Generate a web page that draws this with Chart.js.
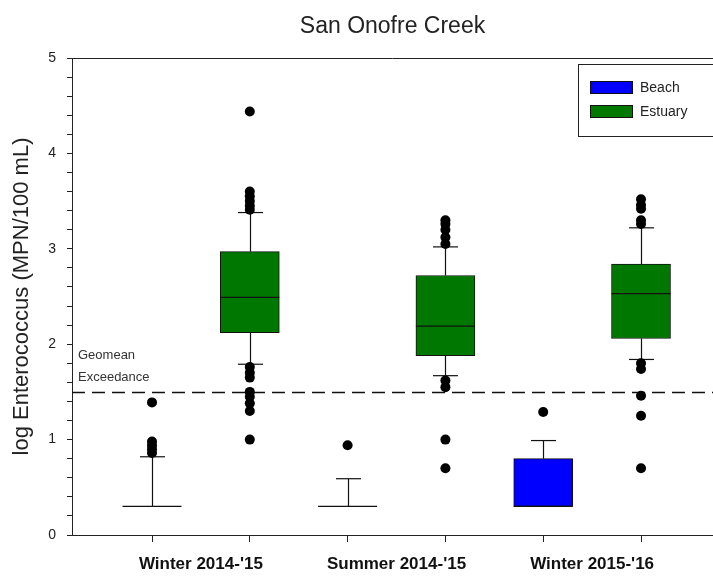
<!DOCTYPE html>
<html>
<head>
<meta charset="utf-8">
<script src="https://cdn.jsdelivr.net/npm/chart.js@4.4.0/dist/chart.umd.min.js"></script>
<style>
  body { margin: 0; background: #fff; }
  #wrap { width: 713px; height: 583px; }
</style>
</head>
<body>
<div id="wrap"><canvas id="chart" width="713" height="583"></canvas></div>
<script>
// categories and series
var categories = ["Winter 2014-'15", "Summer 2014-'15", "Winter 2015-'16"];
var seriesNames = ["Beach", "Estuary"];
var seriesColors = ["#0000ff", "#007800"];
var chartTitle = 'San Onofre Creek';

// box statistics, log Enterococcus
var beachQ1 = [0.3, 0.3, 0.3];
var beachMedian = [0.3, 0.3, 0.3];
var beachQ3 = [0.3, 0.3, 0.8];
var beachLow = [0.3, 0.3, 0.3];
var beachHigh = [0.82, 0.59, 0.99];
var beachOutliers = [[1.39, 0.98, 0.94, 0.9, 0.86], [0.94], [1.29]];

var estuaryQ1 = [2.12, 1.88, 2.06];
var estuaryMedian = [2.49, 2.19, 2.53];
var estuaryQ3 = [2.97, 2.72, 2.84];
var estuaryLow = [1.79, 1.67, 1.84];
var estuaryHigh = [3.38, 3.02, 3.22];
var estuaryOutliers = [
  [4.44, 3.6, 3.55, 3.5, 3.45, 3.41, 1.76, 1.7, 1.65, 1.5, 1.45, 1.38, 1.3, 1.0],
  [3.3, 3.26, 3.2, 3.12, 3.05, 1.62, 1.55, 1.0, 0.7],
  [3.52, 3.46, 3.42, 3.3, 3.26, 1.8, 1.74, 1.46, 1.25, 0.7]
];

var geomeanLimit = 1.5;
var yTicks = [0, 1, 2, 3, 4, 5];

var stats = [
  { q1: beachQ1, med: beachMedian, q3: beachQ3, lo: beachLow, hi: beachHigh, out: beachOutliers },
  { q1: estuaryQ1, med: estuaryMedian, q3: estuaryQ3, lo: estuaryLow, hi: estuaryHigh, out: estuaryOutliers }
];

// slot on the x axis: two boxes per category
function slot(i, s) { return i * 2 + s + 1; }

var BOX_W = 59;
var CAP_W = 25;

var datasets = [];
stats.forEach(function(st, s) {
  datasets.push({
    type: 'bar',
    label: seriesNames[s],
    data: categories.map(function(c, i) { return { x: slot(i, s), y: [st.q1[i], st.q3[i]] }; }),
    backgroundColor: seriesColors[s],
    borderColor: '#111',
    borderWidth: 1,
    borderSkipped: false,
    barThickness: BOX_W,
    grouped: false,
    order: 2
  });
});

var outlierPts = [];
stats.forEach(function(st, s) {
  st.out.forEach(function(list, i) {
    list.forEach(function(v) { outlierPts.push({ x: slot(i, s), y: v }); });
  });
});
datasets.push({
  type: 'scatter',
  label: 'outliers',
  data: outlierPts,
  pointRadius: 5,
  pointBackgroundColor: '#000',
  pointBorderWidth: 0,
  order: 0
});

function line(ctx, x1, y1, x2, y2) {
  ctx.beginPath();
  ctx.moveTo(x1, y1);
  ctx.lineTo(x2, y2);
  ctx.stroke();
}

var boxExtras = {
  id: 'boxExtras',
  beforeDatasetsDraw: function(chart) {
    var ctx = chart.ctx, xs = chart.scales.x, ys = chart.scales.y, area = chart.chartArea;
    ctx.save();
    // geomean exceedance line
    ctx.strokeStyle = '#111';
    ctx.lineWidth = 1.3;
    ctx.setLineDash([13, 7]);
    var gy = Math.round(ys.getPixelForValue(geomeanLimit)) + 0.5;
    line(ctx, area.left, gy, area.right, gy);
    ctx.setLineDash([]);
    // whiskers
    ctx.lineWidth = 1.2;
    stats.forEach(function(st, s) {
      categories.forEach(function(c, i) {
        var px = Math.round(xs.getPixelForValue(slot(i, s))) + 0.5;
        var yq3 = ys.getPixelForValue(st.q3[i]), yhi = ys.getPixelForValue(st.hi[i]);
        var yq1 = ys.getPixelForValue(st.q1[i]), ylo = ys.getPixelForValue(st.lo[i]);
        if (st.hi[i] > st.q3[i]) {
          line(ctx, px, yq3, px, yhi);
          line(ctx, px - CAP_W / 2, yhi, px + CAP_W / 2, yhi);
        }
        if (st.lo[i] < st.q1[i]) {
          line(ctx, px, yq1, px, ylo);
          line(ctx, px - CAP_W / 2, ylo, px + CAP_W / 2, ylo);
        }
      });
    });
    ctx.restore();
  },
  afterDatasetsDraw: function(chart) {
    var ctx = chart.ctx, xs = chart.scales.x, ys = chart.scales.y;
    ctx.save();
    ctx.strokeStyle = '#111';
    ctx.lineWidth = 1.3;
    stats.forEach(function(st, s) {
      categories.forEach(function(c, i) {
        var px = xs.getPixelForValue(slot(i, s));
        var my = ys.getPixelForValue(st.med[i]);
        line(ctx, px - BOX_W / 2, my, px + BOX_W / 2, my);
      });
    });
    ctx.restore();
  },
  afterDraw: function(chart) {
    var ctx = chart.ctx, ys = chart.scales.y, area = chart.chartArea;
    ctx.save();
    // title, centred over the plot area
    ctx.fillStyle = '#222';
    ctx.font = '23px "Liberation Sans", Arial, sans-serif';
    ctx.textAlign = 'center';
    ctx.textBaseline = 'middle';
    ctx.fillText(chartTitle, (area.left + area.right) / 2, area.top - 31);

    // top frame line
    ctx.strokeStyle = '#222';
    ctx.lineWidth = 1;
    line(ctx, area.left, area.top + 0.5, area.right, area.top + 0.5);

    // geomean label
    var gy = ys.getPixelForValue(geomeanLimit);
    ctx.fillStyle = '#333';
    ctx.font = '13px "Liberation Sans", Arial, sans-serif';
    ctx.textAlign = 'left';
    ctx.fillText('Geomean', area.left + 6, gy - 36);
    ctx.fillText('Exceedance', area.left + 6, gy - 14);

    // legend
    var lx = area.right - 135, ly = area.top + 6;
    ctx.strokeStyle = '#222';
    ctx.strokeRect(lx + 0.5, ly + 0.5, 160, 72);
    ctx.font = '14px "Liberation Sans", Arial, sans-serif';
    seriesNames.forEach(function(name, s) {
      var sy = ly + 17 + s * 24;
      ctx.fillStyle = seriesColors[s];
      ctx.fillRect(lx + 12, sy, 43, 13);
      ctx.strokeStyle = '#111';
      ctx.strokeRect(lx + 12.5, sy + 0.5, 42, 12);
      ctx.fillStyle = '#222';
      ctx.fillText(name, lx + 62, sy + 7);
    });
    ctx.restore();
  }
};

var ctx = document.getElementById('chart');
var chart = new Chart(ctx, {
  data: { datasets: datasets },
  plugins: [boxExtras],
  options: {
    responsive: false,
    animation: false,
    events: [],
    layout: { autoPadding: false, padding: { top: 58, left: 0, right: 0, bottom: 0 } },
    plugins: {
      legend: { display: false },
      tooltip: { enabled: false },
      title: { display: false }
    },
    scales: {
      x: {
        type: 'linear',
        offset: false,
        min: 0.182,
        max: 6.736,
        afterFit: function(scale) {
          scale.height = 48;
          scale.paddingLeft = 0;
          scale.paddingRight = 0;
        },
        afterBuildTicks: function(scale) {
          var t = [];
          categories.forEach(function(c, i) {
            t.push({ value: slot(i, 0) }, { value: slot(i, 0) + 0.5 }, { value: slot(i, 1) });
          });
          scale.ticks = t;
        },
        grid: {
          offset: false,
          drawOnChartArea: false,
          tickLength: 7,
          tickColor: function(c) { return c.tick && c.tick.value % 1 !== 0 ? 'rgba(0,0,0,0)' : '#222'; }
        },
        border: { color: '#222', width: 1 },
        ticks: {
          autoSkip: false,
          maxRotation: 0,
          padding: 12,
          color: '#111',
          font: { family: '"Liberation Sans", Arial, sans-serif', size: 17, weight: 'bold' },
          callback: function(v) {
            if (v % 1 === 0) return '';
            return categories[Math.round((v - 1.5) / 2)];
          }
        }
      },
      y: {
        type: 'linear',
        min: 0,
        max: 5,
        afterFit: function(scale) { scale.width = 72; },
        afterBuildTicks: function(scale) {
          var t = [];
          for (var k = 0; k <= 25; k++) t.push({ value: k / 5 });
          scale.ticks = t;
        },
        grid: { drawOnChartArea: false, tickLength: 5, tickColor: '#222' },
        border: { color: '#222', width: 1 },
        ticks: {
          autoSkip: false,
          padding: 11,
          color: '#222',
          font: { family: '"Liberation Sans", Arial, sans-serif', size: 14 },
          callback: function(v) {
            var r = Math.round(v);
            return Math.abs(v - r) < 1e-6 && yTicks.indexOf(r) >= 0 ? String(r) : '';
          }
        },
        title: {
          display: true,
          text: 'log Enterococcus (MPN/100 mL)',
          color: '#222',
          padding: { top: 9, bottom: 0 },
          font: { family: '"Liberation Sans", Arial, sans-serif', size: 22 }
        }
      }
    }
  }
});
</script>
</body>
</html>
